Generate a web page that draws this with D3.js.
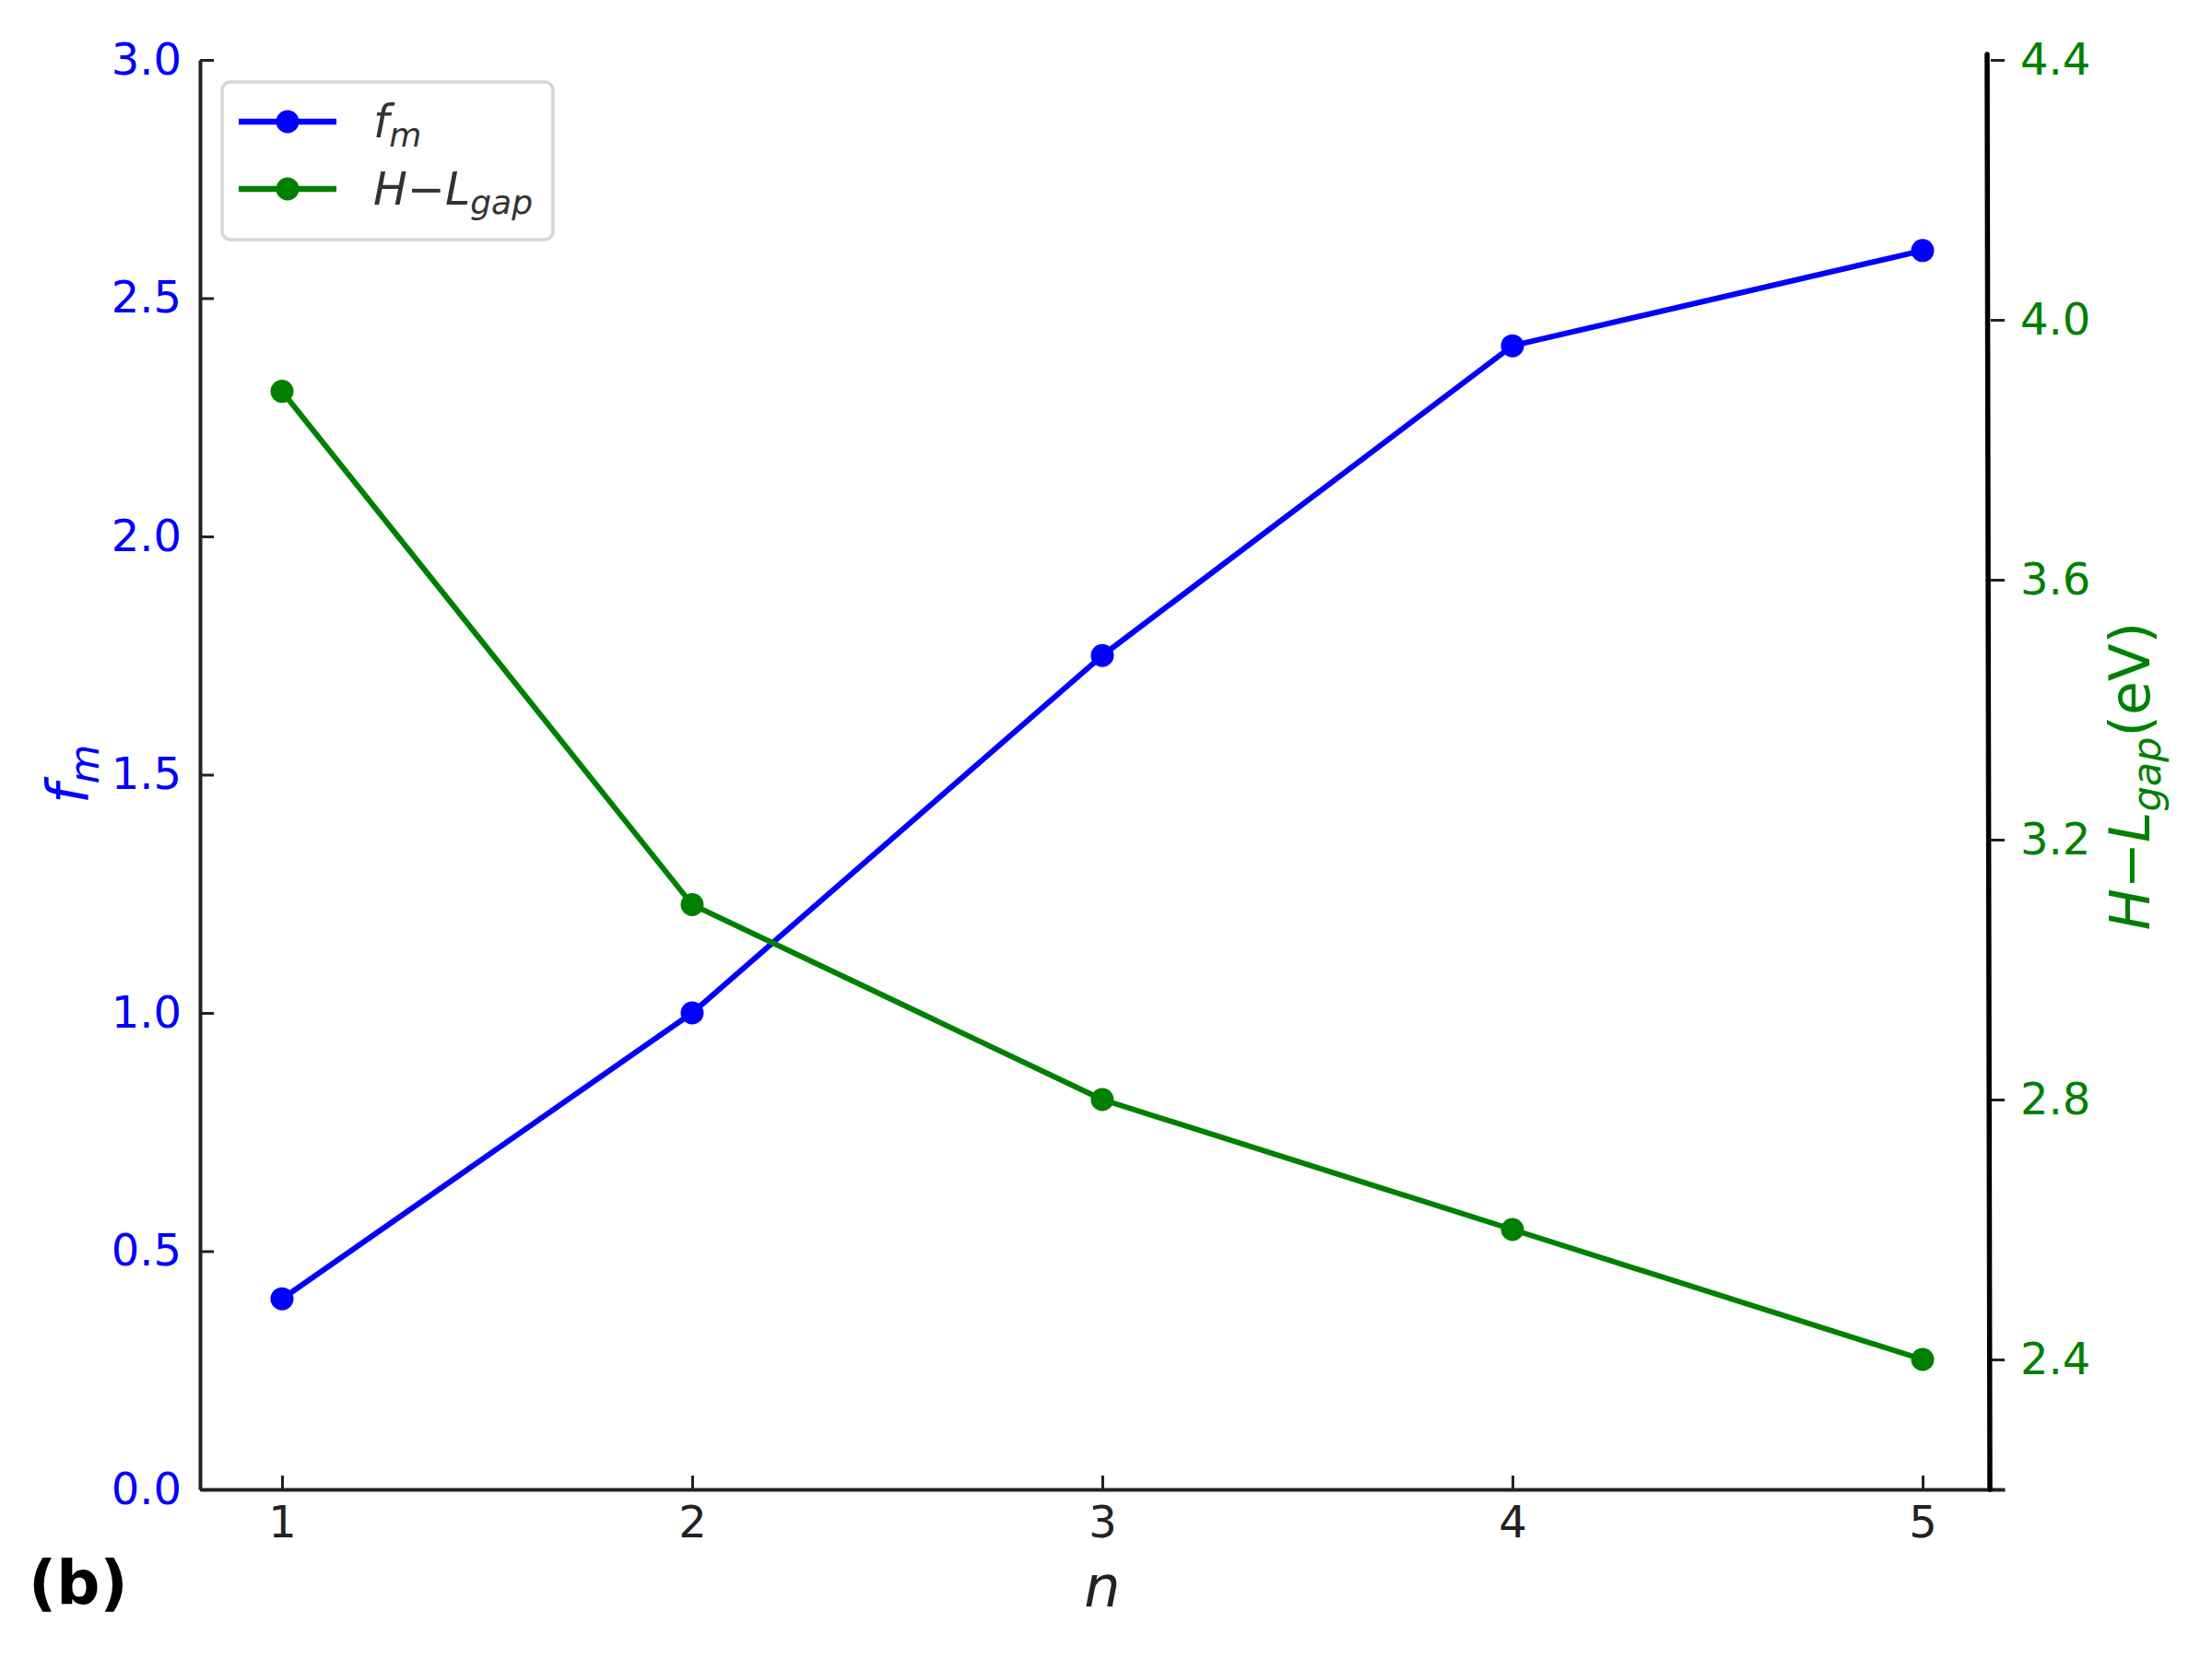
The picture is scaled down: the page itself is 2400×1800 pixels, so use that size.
<!DOCTYPE html>
<html>
<head>
<meta charset="utf-8">
<script src="https://cdn.jsdelivr.net/npm/d3@7"></script>
<style>
  body { margin: 0; background: #fff; }
  text { font-family: "DejaVu Sans", sans-serif; }
</style>
</head>
<body>
<div id="chart-region"></div>
<script>
// data
const nValues = [1, 2, 3, 4, 5];
const fmValues = [0.40, 1.00, 1.75, 2.40, 2.60];
const gapValues = [3.89, 3.10, 2.80, 2.60, 2.40];

const xTicks = [1, 2, 3, 4, 5];
const leftTicks = [0, 0.5, 1.0, 1.5, 2.0, 2.5, 3.0];
const rightTicks = [2.4, 2.8, 3.2, 3.6, 4.0, 4.4];

const BLUE = "#0000ff";
const GREEN = "#008000";
const INK = "#222";

const W = 2400, H = 1800;
const PLOT = {LEFT: 217, RIGHT: 2175, TOP: 65, BOTTOM: 1616};

const svg = d3.select("#chart-region").append("svg")
    .attr("width", W)
    .attr("height", H)
    .style("background", "#fff");

const x = d3.scaleLinear().domain([0.8, 5.2]).range([PLOT.LEFT, PLOT.RIGHT]);
const yL = d3.scaleLinear().domain([0, 3]).range([PLOT.BOTTOM, PLOT.TOP]);
const yR = d3.scaleLinear().domain([2.2, 4.4]).range([PLOT.BOTTOM, PLOT.TOP]);

function styleAxis(g, labelColor) {
    g.selectAll(".domain").attr("stroke", INK).attr("stroke-width", 4);
    g.selectAll(".tick line").attr("stroke", INK).attr("stroke-width", 3);
    g.selectAll(".tick text")
        .attr("fill", labelColor)
        .style("font-family", "DejaVu Sans")
        .style("font-size", "48px");
}

// x axis (ticks inward)
const gx = svg.append("g")
    .attr("transform", `translate(0, ${PLOT.BOTTOM})`)
    .call(d3.axisBottom(x).tickValues(xTicks).tickSizeInner(-15).tickSizeOuter(0)
        .tickPadding(18).tickFormat(d3.format("d")));
styleAxis(gx, INK);

// left axis
const gl = svg.append("g")
    .attr("transform", `translate(${PLOT.LEFT}, 0)`)
    .call(d3.axisLeft(yL).tickValues(leftTicks).tickSizeInner(-15).tickSizeOuter(0)
        .tickPadding(20).tickFormat(d3.format(".1f")));
styleAxis(gl, BLUE);

// right axis - spine is drawn separately (it leans a little in the original)
const gr = svg.append("g")
    .attr("transform", `translate(2160, 0)`)
    .call(d3.axisRight(yR).tickValues(rightTicks).tickSizeInner(15).tickSizeOuter(0)
        .tickPadding(17).tickFormat(d3.format(".1f")));
styleAxis(gr, GREEN);
gr.select(".domain").remove();

svg.append("line")
    .attr("x1", 2156).attr("y1", 59)
    .attr("x2", 2159).attr("y2", PLOT.BOTTOM)
    .attr("stroke", "#000")
    .attr("stroke-width", 5.5)
    .attr("stroke-linecap", "round");

// series
const series = [
    {values: fmValues, y: yL, color: BLUE},
    {values: gapValues, y: yR, color: GREEN}
];

series.forEach(s => {
    const pts = nValues.map((n, i) => [n, s.values[i]]);
    svg.append("path")
        .datum(pts)
        .attr("fill", "none")
        .attr("stroke", s.color)
        .attr("stroke-width", 6)
        .attr("stroke-linejoin", "round")
        .attr("d", d3.line().x(d => x(d[0])).y(d => s.y(d[1])));
    svg.append("g")
        .selectAll("circle")
        .data(pts)
        .enter()
        .append("circle")
        .attr("cx", d => x(d[0]))
        .attr("cy", d => s.y(d[1]))
        .attr("r", 12.5)
        .attr("fill", s.color);
});

// axis labels
svg.append("text")
    .attr("x", 1196).attr("y", 1743)
    .attr("text-anchor", "middle")
    .style("font-size", "62px")
    .style("font-style", "italic")
    .attr("fill", INK)
    .text("n");

const fmLabel = svg.append("text")
    .attr("transform", "translate(95, 840) rotate(-90)")
    .attr("text-anchor", "middle")
    .style("font-size", "62px")
    .attr("fill", BLUE);
fmLabel.append("tspan").style("font-style", "italic").text("f");
fmLabel.append("tspan").style("font-style", "italic").style("font-size", "44px").attr("dy", 12).text("m");

const gapLabel = svg.append("text")
    .attr("transform", "translate(2332, 842) rotate(-90)")
    .attr("text-anchor", "middle")
    .style("font-size", "60px")
    .attr("fill", GREEN);
gapLabel.append("tspan").style("font-style", "italic").text("H");
gapLabel.append("tspan").text("\u2212");
gapLabel.append("tspan").style("font-style", "italic").text("L");
gapLabel.append("tspan").style("font-style", "italic").style("font-size", "43px").attr("dy", 12).text("gap");
gapLabel.append("tspan").attr("dy", -12).text("(eV)");

// panel tag
svg.append("text")
    .attr("x", 31).attr("y", 1740)
    .style("font-size", "66px")
    .style("font-weight", "bold")
    .attr("fill", "#000")
    .text("(b)");

// legend
const legend = svg.append("g");
legend.append("rect")
    .attr("x", 241).attr("y", 89)
    .attr("width", 359).attr("height", 171)
    .attr("rx", 9)
    .attr("fill", "#fff")
    .attr("stroke", "#d6d6d6")
    .attr("stroke-width", 3.5);

const legendRows = [
    {color: BLUE, y: 132, main: ["f"], sub: "m"},
    {color: GREEN, y: 205, main: ["H", "\u2212", "L"], sub: "gap"}
];

legendRows.forEach(r => {
    legend.append("line")
        .attr("x1", 259).attr("x2", 365)
        .attr("y1", r.y).attr("y2", r.y)
        .attr("stroke", r.color)
        .attr("stroke-width", 6.5);
    legend.append("circle")
        .attr("cx", 312).attr("cy", r.y)
        .attr("r", 12.5)
        .attr("fill", r.color);
    const t = legend.append("text")
        .attr("x", 405).attr("y", r.y + 17)
        .style("font-size", "49px")
        .attr("fill", "#333");
    r.main.forEach(s => {
        t.append("tspan").style("font-style", s === "\u2212" ? "normal" : "italic").text(s);
    });
    t.append("tspan").style("font-style", "italic").style("font-size", "36px").attr("dy", 10).text(r.sub);
});
</script>
</body>
</html>
